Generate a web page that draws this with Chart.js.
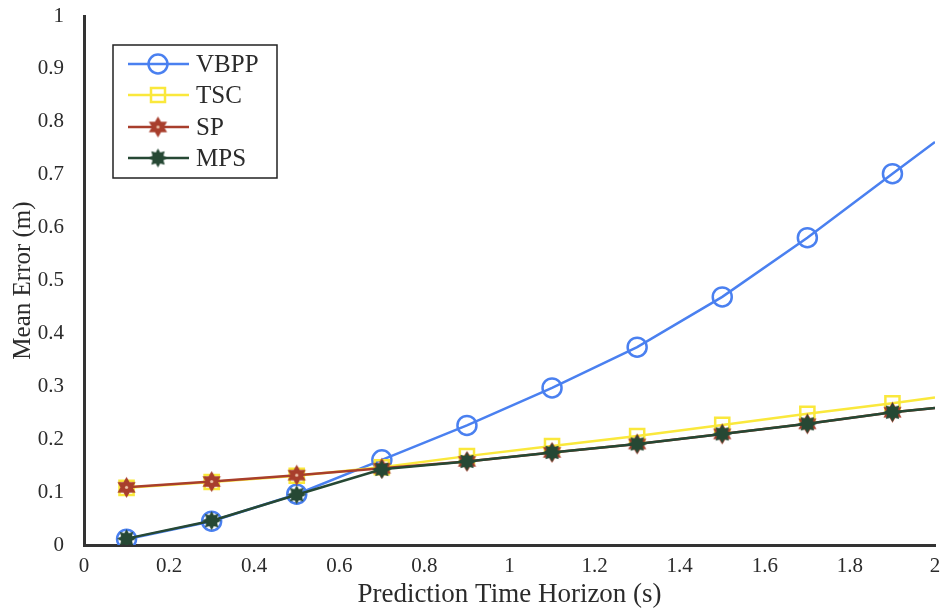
<!DOCTYPE html>
<html>
<head>
<meta charset="utf-8">
<script src="https://cdn.jsdelivr.net/npm/chart.js@4.4.1/dist/chart.umd.min.js"></script>
<style>
    html, body { margin: 0; padding: 0; background: #fff; }
    #chart { display: block; }
</style>
</head>
<body>
<canvas id="chart" width="941" height="610"></canvas>
<script>
// prediction horizons (s); last entry is where the lines end, no marker
const horizons = [0.1, 0.3, 0.5, 0.7, 0.9, 1.1, 1.3, 1.5, 1.7, 1.9, 2.0];

const vbppErr = [0.011, 0.045, 0.096, 0.161, 0.226, 0.297, 0.374, 0.469, 0.581, 0.702, 0.762];
const tscErr  = [0.108, 0.119, 0.131, 0.147, 0.168, 0.187, 0.206, 0.227, 0.248, 0.268, 0.279];
const spErr   = [0.109, 0.120, 0.132, 0.145, 0.158, 0.175, 0.191, 0.210, 0.229, 0.251, 0.259];
const mpsErr  = [0.012, 0.046, 0.095, 0.143, 0.158, 0.175, 0.191, 0.210, 0.229, 0.251, 0.259];

const seriesNames = ["VBPP", "TSC", "SP", "MPS"];

const xTicks = [0, 0.2, 0.4, 0.6, 0.8, 1, 1.2, 1.4, 1.6, 1.8, 2];
const yTicks = [0, 0.1, 0.2, 0.3, 0.4, 0.5, 0.6, 0.7, 0.8, 0.9, 1];

const FONT = "'Liberation Serif', 'DejaVu Serif', serif";
const TEXT = "#2b2b2b";

const blue = "rgb(74, 128, 240)";
const yellow = "rgb(250, 232, 60)";
const brown = "rgb(168, 62, 44)";
const green = "rgb(38, 72, 52)";

function makeHexagram(size, color) {
    const c = document.createElement("canvas");
    c.width = size;
    c.height = size;
    const ctx = c.getContext("2d");
    const cx = size / 2, cy = size / 2;
    const outer = size / 2 - 1, inner = outer * 0.58;
    ctx.beginPath();
    for (let i = 0; i < 12; i++) {
        const r = i % 2 == 0 ? outer : inner;
        const a = -Math.PI / 2 + i * Math.PI / 6;
        ctx.lineTo(cx + r * Math.cos(a), cy + r * Math.sin(a));
    }
    ctx.closePath();
    ctx.fillStyle = color;
    ctx.fill();
    ctx.beginPath();
    ctx.arc(cx, cy, 1.6, 0, Math.PI * 2);
    ctx.fillStyle = "rgba(255, 230, 200, 0.8)";
    ctx.fill();
    return c;
}

function makeAsterisk(size, color) {
    const c = document.createElement("canvas");
    c.width = size;
    c.height = size;
    const ctx = c.getContext("2d");
    const cx = size / 2, cy = size / 2;
    const outer = size / 2 - 1, inner = outer * 0.62;
    ctx.beginPath();
    for (let i = 0; i < 16; i++) {
        const r = i % 2 == 0 ? outer : inner;
        const a = -Math.PI / 2 + i * Math.PI / 8;
        ctx.lineTo(cx + r * Math.cos(a), cy + r * Math.sin(a));
    }
    ctx.closePath();
    ctx.fillStyle = color;
    ctx.fill();
    return c;
}

const spMarker = makeHexagram(23, brown);
const mpsMarker = makeAsterisk(21, green);

// marker on every point except the line end at x = 2
function markers(size) {
    return horizons.map((x, i) => i < horizons.length - 1 ? size : 0);
}

function toPoints(values) {
    return horizons.map((x, i) => ({ x: x, y: values[i] }));
}

const datasets = [
    {
        label: seriesNames[0], data: toPoints(vbppErr), order: 4,
        borderColor: blue, borderWidth: 2.5,
        pointStyle: "circle", pointRadius: markers(9.5),
        pointBorderColor: blue, pointBackgroundColor: "transparent", pointBorderWidth: 2.5
    },
    {
        label: seriesNames[1], data: toPoints(tscErr), order: 3,
        borderColor: yellow, borderWidth: 2.5,
        pointStyle: "rect", pointRadius: markers(10),
        pointBorderColor: yellow, pointBackgroundColor: "transparent", pointBorderWidth: 2.5
    },
    {
        label: seriesNames[2], data: toPoints(spErr), order: 2,
        borderColor: brown, borderWidth: 2.5,
        pointStyle: spMarker, pointRadius: markers(10)
    },
    {
        label: seriesNames[3], data: toPoints(mpsErr), order: 1,
        borderColor: green, borderWidth: 2.5,
        pointStyle: mpsMarker, pointRadius: markers(10)
    }
];

// legend drawn inside the plot, top left
const insideLegend = {
    id: "insideLegend",
    afterDatasetsDraw(chart) {
        const ctx = chart.ctx;
        const box = { x: 113, y: 45, w: 164, h: 133 };
        ctx.save();
        ctx.fillStyle = "#fff";
        ctx.fillRect(box.x, box.y, box.w, box.h);
        ctx.strokeStyle = "#222";
        ctx.lineWidth = 1.5;
        ctx.strokeRect(box.x, box.y, box.w, box.h);

        const rows = [64, 95, 127, 158];
        ctx.font = "25px " + FONT;
        ctx.textBaseline = "middle";
        for (let i = 0; i < datasets.length; i++) {
            const ds = datasets[i];
            const y = rows[i];
            ctx.strokeStyle = ds.borderColor;
            ctx.lineWidth = 2.5;
            ctx.beginPath();
            ctx.moveTo(128, y);
            ctx.lineTo(189, y);
            ctx.stroke();

            const mx = 158;
            if (ds.pointStyle == "circle") {
                ctx.beginPath();
                ctx.arc(mx, y, 9.5, 0, Math.PI * 2);
                ctx.stroke();
            } else if (ds.pointStyle == "rect") {
                ctx.strokeRect(mx - 7, y - 7, 14, 14);
            } else {
                const img = ds.pointStyle;
                ctx.drawImage(img, mx - img.width / 2, y - img.height / 2);
            }
            ctx.fillStyle = TEXT;
            ctx.fillText(ds.label, 196, y + 1);
        }
        ctx.restore();
    }
};

new Chart(document.getElementById("chart"), {
    type: "line",
    data: { datasets: datasets },
    plugins: [insideLegend],
    options: {
        responsive: false,
        animation: false,
        devicePixelRatio: 1,
        layout: { autoPadding: false, padding: { top: 16, right: 6, left: 0, bottom: 0 } },
        plugins: { legend: { display: false }, tooltip: { enabled: false } },
        elements: { line: { tension: 0 } },
        scales: {
            x: {
                type: "linear", min: 0, max: 2,
                afterFit: (scale) => {
                    scale.height = 65;
                    scale.paddingLeft = 0;
                    scale.paddingRight = 0;
                },
                afterBuildTicks: (scale) => { scale.ticks = xTicks.map(v => ({ value: v })); },
                grid: { display: false },
                border: { display: true, color: "#333", width: 3 },
                ticks: {
                    font: { family: FONT, size: 21 }, color: TEXT, padding: 1, maxRotation: 0,
                    callback: (v) => String(v)
                },
                title: {
                    display: true, text: "Prediction Time Horizon (s)",
                    font: { family: FONT, size: 27 }, color: TEXT, padding: { top: 0, bottom: -1 }
                }
            },
            y: {
                type: "linear", min: 0, max: 1,
                afterFit: (scale) => {
                    scale.width = 84;
                    scale.paddingTop = 0;
                    scale.paddingBottom = 0;
                },
                afterBuildTicks: (scale) => { scale.ticks = yTicks.map(v => ({ value: v })); },
                grid: { display: false },
                border: { display: true, color: "#333", width: 3 },
                ticks: {
                    font: { family: FONT, size: 21 }, color: TEXT, padding: 12,
                    callback: (v) => String(v)
                },
                title: {
                    display: true, text: "Mean Error (m)",
                    font: { family: FONT, size: 25 }, color: TEXT, padding: { top: 8, bottom: 0 }
                }
            }
        }
    }
});
</script>
</body>
</html>
